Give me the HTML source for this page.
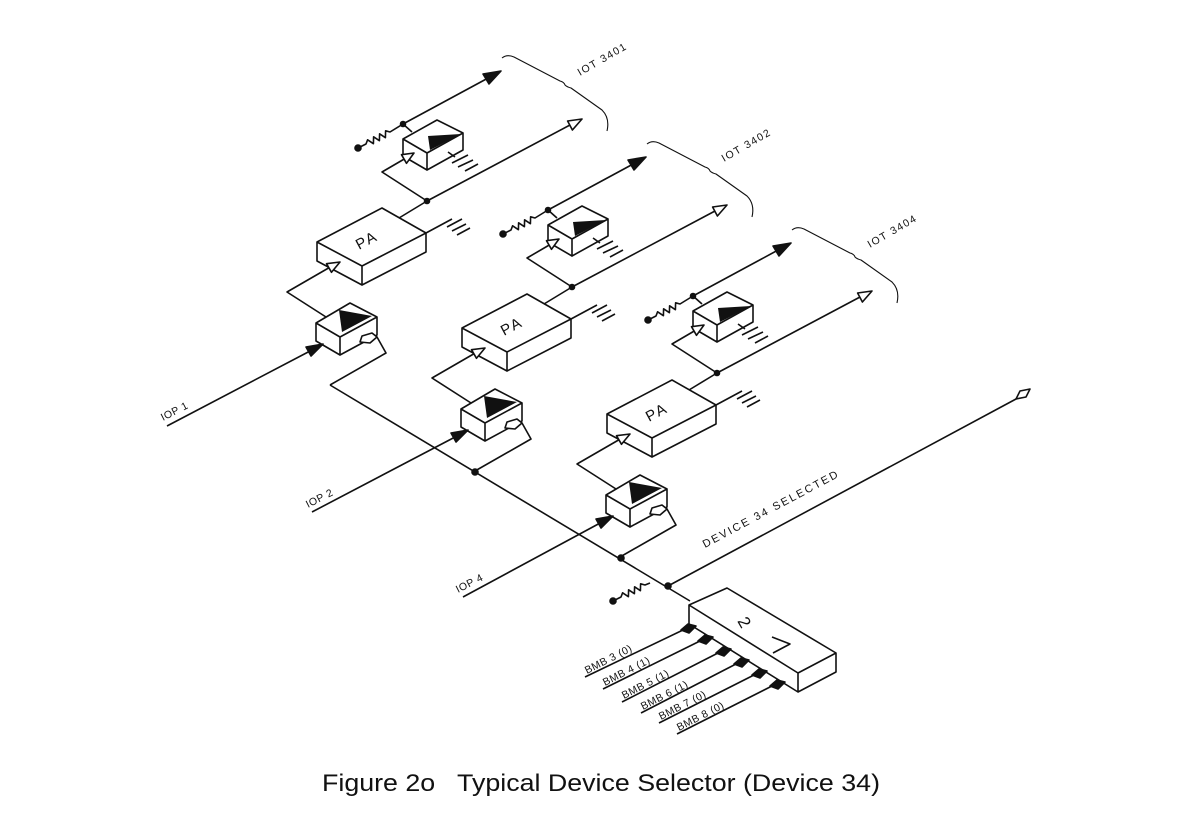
<!DOCTYPE html>
<html><head><meta charset="utf-8"><style>
html,body{margin:0;padding:0;background:#fff;}
svg{display:block;}
text{font-family:"Liberation Sans",sans-serif;fill:#111;stroke:none;}
</style></head><body>
<svg width="1200" height="830" viewBox="0 0 1200 830" xmlns="http://www.w3.org/2000/svg">
<g stroke="#111" stroke-width="1.6" fill="none" stroke-linejoin="round">

<g>
  <path fill="#fff" d="M316,323 L350,303 L377,317 L340,337 Z M316,323 L316,341 L340,355 L340,337 M340,355 L377,335 L377,317"/>
  <path fill="#111" stroke="none" d="M339,310 L372,316 L342,332 Z"/>
  <path fill="#fff" d="M360,342 L362,336 L372,333 L377,337 L370,343 Z"/>
  <polyline points="377,337 386,353 330,385"/>
  <polyline points="326,317 287,292 332,266"/>
  <path fill="#fff" d="M317,242 L382,208 L426,233 L362,266 Z M317,242 L317,261 L362,285 L362,266 M362,285 L426,252 L426,233"/>
  <path fill="#fff" d="M340,262 L326.5,263.7 L331.5,272.3 Z"/>
  <text transform="translate(359,250) rotate(-28)" font-size="15" letter-spacing="2">PA</text>
  <polyline points="426,233 452,219"/>
  <path d="M447,227 L462,219 M452,231 L466,224 M457,235 L470,228"/>
  <polyline points="399,218 427,201"/>
  <polyline points="427,201 382,172 406,158"/>
  <line x1="427" y1="201" x2="570" y2="125"/>
  <path fill="#fff" d="M582,119 L567.6,121 L572.4,130 Z"/>
  <path fill="#fff" d="M403,139 L437,120 L463,133 L427,153 Z M403,139 L403,156 L427,170 L427,153 M427,170 L463,150 L463,133"/>
  <path fill="#fff" d="M414,153 L401.5,154.7 L406.5,163.3 Z"/>
  <path fill="#111" stroke="none" d="M428,136 L461,134 L430,150 Z"/>
  <path d="M448,152 L455,157 M452,163 L468,155 M458,167 L473,160 M465,171 L478,164"/>
  <line x1="403" y1="124" x2="412" y2="132"/>
  <line x1="403" y1="124" x2="490" y2="77"/>
  <path fill="#111" d="M501,71 L483,74 L489,84 Z"/>
  <polyline points="358,148 366,144 367.6,139.8 373.4,143.7 373.6,136.8 379.4,140.7 379.6,133.8 385.4,137.7 385.6,130.8 390,132 403,124"/>
  <circle cx="358" cy="148" r="3" fill="#111"/>
  <circle cx="403" cy="124" r="2.5" fill="#111"/>
  <circle cx="427" cy="201" r="2.5" fill="#111"/>
  <path stroke-width="1.1" d="M502,58 Q507,54 514,57 L560,81 Q564,82 565,85 Q567,87 571,88 L602,110 Q610,118 607,131"/>
</g>

<g transform="translate(145,86)">
  <path fill="#fff" d="M316,323 L350,303 L377,317 L340,337 Z M316,323 L316,341 L340,355 L340,337 M340,355 L377,335 L377,317"/>
  <path fill="#111" stroke="none" d="M339,310 L372,316 L342,332 Z"/>
  <path fill="#fff" d="M360,342 L362,336 L372,333 L377,337 L370,343 Z"/>
  <polyline points="377,337 386,353 330,385"/>
  <polyline points="326,317 287,292 332,266"/>
  <path fill="#fff" d="M317,242 L382,208 L426,233 L362,266 Z M317,242 L317,261 L362,285 L362,266 M362,285 L426,252 L426,233"/>
  <path fill="#fff" d="M340,262 L326.5,263.7 L331.5,272.3 Z"/>
  <text transform="translate(359,250) rotate(-28)" font-size="15" letter-spacing="2">PA</text>
  <polyline points="426,233 452,219"/>
  <path d="M447,227 L462,219 M452,231 L466,224 M457,235 L470,228"/>
  <polyline points="399,218 427,201"/>
  <polyline points="427,201 382,172 406,158"/>
  <line x1="427" y1="201" x2="570" y2="125"/>
  <path fill="#fff" d="M582,119 L567.6,121 L572.4,130 Z"/>
  <path fill="#fff" d="M403,139 L437,120 L463,133 L427,153 Z M403,139 L403,156 L427,170 L427,153 M427,170 L463,150 L463,133"/>
  <path fill="#fff" d="M414,153 L401.5,154.7 L406.5,163.3 Z"/>
  <path fill="#111" stroke="none" d="M428,136 L461,134 L430,150 Z"/>
  <path d="M448,152 L455,157 M452,163 L468,155 M458,167 L473,160 M465,171 L478,164"/>
  <line x1="403" y1="124" x2="412" y2="132"/>
  <line x1="403" y1="124" x2="490" y2="77"/>
  <path fill="#111" d="M501,71 L483,74 L489,84 Z"/>
  <polyline points="358,148 366,144 367.6,139.8 373.4,143.7 373.6,136.8 379.4,140.7 379.6,133.8 385.4,137.7 385.6,130.8 390,132 403,124"/>
  <circle cx="358" cy="148" r="3" fill="#111"/>
  <circle cx="403" cy="124" r="2.5" fill="#111"/>
  <circle cx="427" cy="201" r="2.5" fill="#111"/>
  <path stroke-width="1.1" d="M502,58 Q507,54 514,57 L560,81 Q564,82 565,85 Q567,87 571,88 L602,110 Q610,118 607,131"/>
</g>

<g transform="translate(290,172)">
  <path fill="#fff" d="M316,323 L350,303 L377,317 L340,337 Z M316,323 L316,341 L340,355 L340,337 M340,355 L377,335 L377,317"/>
  <path fill="#111" stroke="none" d="M339,310 L372,316 L342,332 Z"/>
  <path fill="#fff" d="M360,342 L362,336 L372,333 L377,337 L370,343 Z"/>
  <polyline points="377,337 386,353 330,385"/>
  <polyline points="326,317 287,292 332,266"/>
  <path fill="#fff" d="M317,242 L382,208 L426,233 L362,266 Z M317,242 L317,261 L362,285 L362,266 M362,285 L426,252 L426,233"/>
  <path fill="#fff" d="M340,262 L326.5,263.7 L331.5,272.3 Z"/>
  <text transform="translate(359,250) rotate(-28)" font-size="15" letter-spacing="2">PA</text>
  <polyline points="426,233 452,219"/>
  <path d="M447,227 L462,219 M452,231 L466,224 M457,235 L470,228"/>
  <polyline points="399,218 427,201"/>
  <polyline points="427,201 382,172 406,158"/>
  <line x1="427" y1="201" x2="570" y2="125"/>
  <path fill="#fff" d="M582,119 L567.6,121 L572.4,130 Z"/>
  <path fill="#fff" d="M403,139 L437,120 L463,133 L427,153 Z M403,139 L403,156 L427,170 L427,153 M427,170 L463,150 L463,133"/>
  <path fill="#fff" d="M414,153 L401.5,154.7 L406.5,163.3 Z"/>
  <path fill="#111" stroke="none" d="M428,136 L461,134 L430,150 Z"/>
  <path d="M448,152 L455,157 M452,163 L468,155 M458,167 L473,160 M465,171 L478,164"/>
  <line x1="403" y1="124" x2="412" y2="132"/>
  <line x1="403" y1="124" x2="490" y2="77"/>
  <path fill="#111" d="M501,71 L483,74 L489,84 Z"/>
  <polyline points="358,148 366,144 367.6,139.8 373.4,143.7 373.6,136.8 379.4,140.7 379.6,133.8 385.4,137.7 385.6,130.8 390,132 403,124"/>
  <circle cx="358" cy="148" r="3" fill="#111"/>
  <circle cx="403" cy="124" r="2.5" fill="#111"/>
  <circle cx="427" cy="201" r="2.5" fill="#111"/>
  <path stroke-width="1.1" d="M502,58 Q507,54 514,57 L560,81 Q564,82 565,85 Q567,87 571,88 L602,110 Q610,118 607,131"/>
</g>

<line x1="330" y1="385" x2="690" y2="601"/>
<circle cx="475" cy="472" r="3" fill="#111"/>
<circle cx="621" cy="558" r="3" fill="#111"/>
<circle cx="668" cy="586" r="3" fill="#111"/>

<line x1="167" y1="426" x2="312" y2="350"/>
<path fill="#111" d="M323,344 L306,347 L311,356 Z"/>
<line x1="312" y1="512" x2="457" y2="436"/>
<path fill="#111" d="M468,430 L451,433 L456,442 Z"/>
<line x1="463" y1="597" x2="602" y2="522"/>
<path fill="#111" d="M613,516 L596,519 L601,528 Z"/>

<line x1="668" y1="586" x2="1016" y2="399"/>
<path fill="#fff" d="M1016,399 L1020,391 L1030,389 L1026,397 Z"/>

<g transform="translate(255,453)">
<polyline points="358,148 366,144 367.6,139.8 373.4,143.7 373.6,136.8 379.4,140.7 379.6,133.8 385.4,137.7 385.6,130.8 390,132 395,130"/>
<circle cx="358" cy="148" r="3" fill="#111"/>
</g>

<path fill="#fff" d="M689,605 L727,588 L836,653 L798,673 Z M689,605 L689,624 L798,692 L798,673 M798,692 L836,672 L836,653"/>
<text transform="translate(737,621) rotate(60)" font-size="17">2</text>
<path d="M772,637 L790,644 L773,653"/>

<g fill="#111">
<path d="M681,630 L688,624 L696,626 L689,633 Z"/>
<path d="M698,641 L705,635 L713,637 L706,644 Z"/>
<path d="M716,653 L723,647 L731,649 L724,656 Z"/>
<path d="M734,664 L741,658 L749,660 L742,667 Z"/>
<path d="M752,675 L759,669 L767,671 L760,678 Z"/>
<path d="M770,686 L777,680 L785,682 L778,689 Z"/>
</g>
<line x1="683" y1="630" x2="585" y2="677"/>
<line x1="700" y1="641" x2="603" y2="689"/>
<line x1="718" y1="653" x2="622" y2="702"/>
<line x1="736" y1="664" x2="641" y2="713"/>
<line x1="754" y1="675" x2="659" y2="723"/>
<line x1="772" y1="686" x2="677" y2="734"/>
</g>

<g font-size="10.5" letter-spacing="1.5">
<text transform="translate(580,76) rotate(-30)">IOT 3401</text>
<text transform="translate(724,162) rotate(-30)">IOT 3402</text>
<text transform="translate(870,248) rotate(-30)">IOT 3404</text>
</g>
<g font-size="10.5" letter-spacing="0.5">
<text transform="translate(587,674) rotate(-27)">BMB 3 (0)</text>
<text transform="translate(605,686) rotate(-27)">BMB 4 (1)</text>
<text transform="translate(624,699) rotate(-27)">BMB 5 (1)</text>
<text transform="translate(643,710) rotate(-27)">BMB 6 (1)</text>
<text transform="translate(661,720) rotate(-27)">BMB 7 (0)</text>
<text transform="translate(679,731) rotate(-27)">BMB 8 (0)</text>
<text transform="translate(163,421) rotate(-27)">IOP 1</text>
<text transform="translate(308,508) rotate(-27)">IOP 2</text>
<text transform="translate(458,593) rotate(-27)">IOP 4</text>
</g>
<text transform="translate(705,548) rotate(-28)" font-size="11" letter-spacing="2">DEVICE 34 SELECTED</text>

<text x="322" y="791" font-size="24" xml:space="preserve" style="white-space:pre" textLength="558" lengthAdjust="spacingAndGlyphs">Figure 2o   Typical Device Selector (Device 34)</text>
</svg>
</body></html>
